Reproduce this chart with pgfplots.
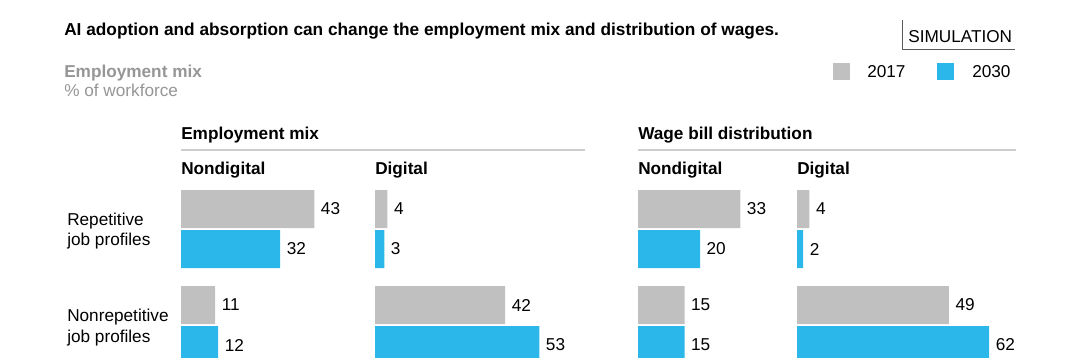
\documentclass[border=0pt]{standalone}
\usepackage{fontspec}
\setmainfont{Liberation Sans}
\usepackage{pgfplots}
\pgfplotsset{compat=1.18}
\definecolor{g17}{RGB}{192,192,192}
\definecolor{b30}{RGB}{44,183,234}
\definecolor{subgray}{RGB}{150,150,150}
\definecolor{rulegray}{RGB}{205,205,205}
\newcommand{\fs}{\fontsize{12.9}{15}\selectfont}
\newcommand{\fst}{\fontsize{12.95}{15}\selectfont}
\pgfplotsset{panel/.style={
  xbar, hide axis, anchor=origin,
  x=2.325pt, y=0.75pt,
  xmin=0, xmax=70, ymin=-370, ymax=0,
  clip=false, bar width=38, bar shift=0,
  /pgf/number format/assume math mode=true,
  nodes near coords,
  every node near coord/.append style={anchor=west, inner sep=0pt, xshift=4.8pt, font=\fs, text=black},
}}
\begin{document}
\begin{tikzpicture}
\path[use as bounding box] (0,0) rectangle (810pt,-267.75pt);
\begin{scope}[x=0.75pt,y=-0.75pt]
\node[anchor=base west, inner sep=0pt, font=\fst\bfseries] at (64,36) {AI adoption and absorption can change the employment mix and distribution of wages.};
\draw[line width=0.75pt, draw={rgb,255:red,90;green,90;blue,90}] (902,20) -- (902,49) -- (1015,49);
\node[anchor=base west, inner sep=0pt, font=\fs] at (908,42) {SIMULATION};
\fill[g17] (833,63) rectangle (850,80);
\node[anchor=base west, inner sep=0pt, font=\fs] at (867,77) {2017};
\fill[b30] (937,63) rectangle (954,80);
\node[anchor=base west, inner sep=0pt, font=\fs] at (972,77) {2030};
\node[anchor=base west, inner sep=0pt, font=\fs\bfseries, text=subgray] at (64,77) {Employment mix};
\node[anchor=base west, inner sep=0pt, font=\fs, text=subgray] at (64,96) {\% of workforce};
\node[anchor=base west, inner sep=0pt, font=\fs\bfseries] at (181,139) {Employment mix};
\node[anchor=base west, inner sep=0pt, font=\fs\bfseries] at (638,139) {Wage bill distribution};
\draw[line width=0.9pt, rulegray] (181,150) -- (585,150);
\draw[line width=0.9pt, rulegray] (638,150) -- (1016,150);
\node[anchor=base west, inner sep=0pt, font=\fs\bfseries] at (181,174) {Nondigital};
\node[anchor=base west, inner sep=0pt, font=\fs\bfseries] at (375,174) {Digital};
\node[anchor=base west, inner sep=0pt, font=\fs\bfseries] at (638,174) {Nondigital};
\node[anchor=base west, inner sep=0pt, font=\fs\bfseries] at (797,174) {Digital};
\node[anchor=base west, inner sep=0pt, font=\fs] at (67,225) {Repetitive};
\node[anchor=base west, inner sep=0pt, font=\fs] at (67,245) {job profiles};
\node[anchor=base west, inner sep=0pt, font=\fs] at (67,321) {Nonrepetitive};
\node[anchor=base west, inner sep=0pt, font=\fs] at (67,342) {job profiles};
\end{scope}
% Employment mix - Nondigital
\begin{axis}[panel, at={(135.75pt,0pt)}]
\addplot[fill=g17, draw=none] coordinates {(43,-209) (11,-305)};
\addplot[fill=b30, draw=none] coordinates {(32,-249) (12,-345)};
\end{axis}
% Employment mix - Digital
\begin{axis}[panel, at={(281.25pt,0pt)}]
\addplot[fill=g17, draw=none] coordinates {(4,-209) (42,-305)};
\addplot[fill=b30, draw=none] coordinates {(3,-249) (53,-345)};
\end{axis}
% Wage bill - Nondigital
\begin{axis}[panel, at={(478.5pt,0pt)}]
\addplot[fill=g17, draw=none] coordinates {(33,-209) (15,-305)};
\addplot[fill=b30, draw=none] coordinates {(20,-249) (15,-345)};
\end{axis}
% Wage bill - Digital
\begin{axis}[panel, at={(597.75pt,0pt)}]
\addplot[fill=g17, draw=none] coordinates {(4,-209) (49,-305)};
\addplot[fill=b30, draw=none] coordinates {(2,-249) (62,-345)};
\end{axis}
\end{tikzpicture}
\end{document}
